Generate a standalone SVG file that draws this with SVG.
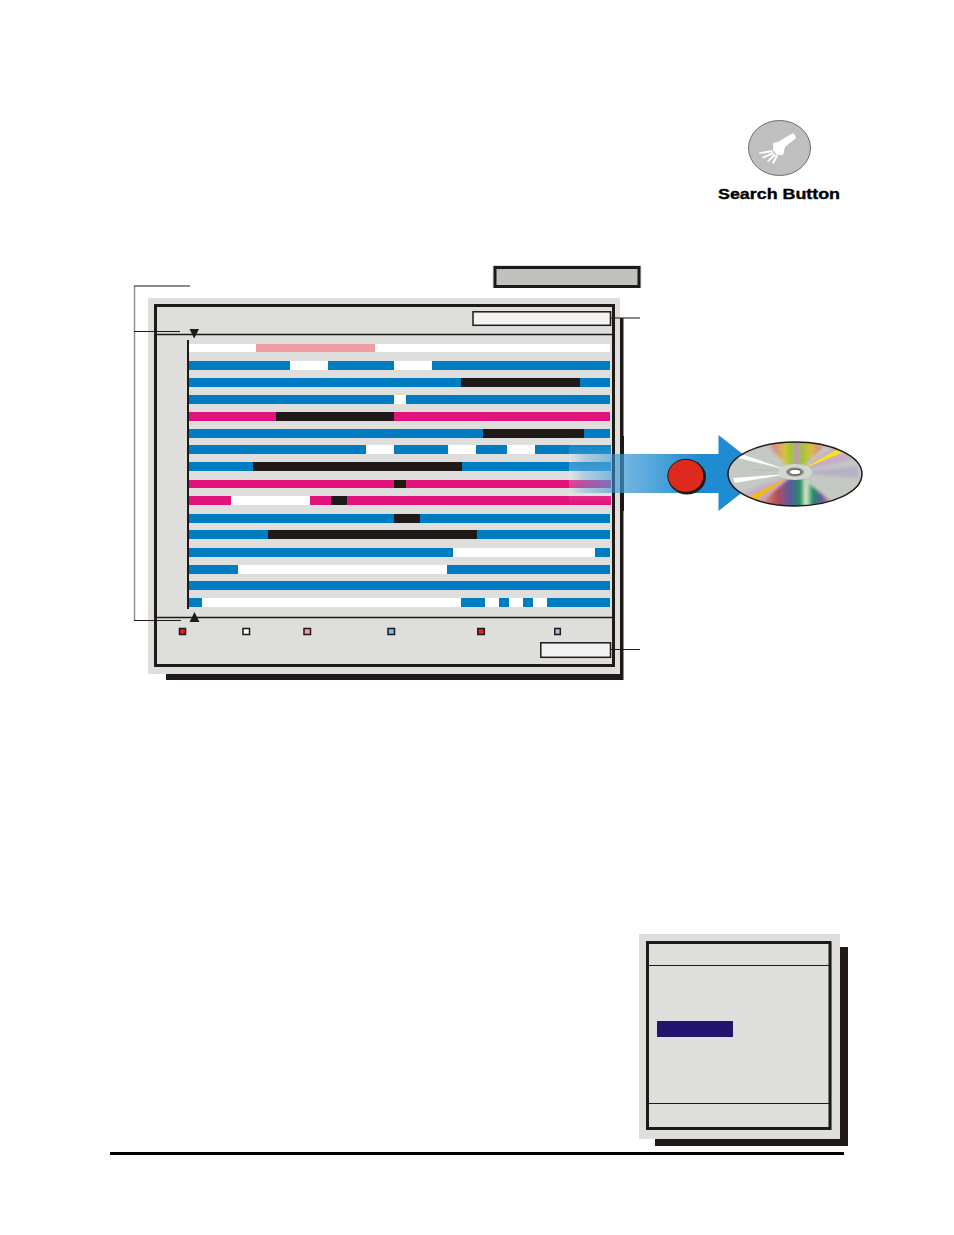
<svg xmlns="http://www.w3.org/2000/svg" width="954" height="1235" viewBox="0 0 954 1235">
<style>
.b{fill:#007cc3}.k{fill:#1f1a17}.w{fill:#fff}.m{fill:#e0147c}.p{fill:#f09ca4}
.ln{stroke:#1f1a17;stroke-width:1.5;fill:none}
.sw{stroke:#1f1a17;stroke-width:1.5}
</style>
<defs>
<linearGradient id="shaft" x1="569" x2="700" y1="0" y2="0" gradientUnits="userSpaceOnUse">
<stop offset="0" stop-color="#2a8fd0" stop-opacity="0"/><stop offset="0.1" stop-color="#2a8fd0" stop-opacity=".25"/><stop offset="0.45" stop-color="#3d9ad6" stop-opacity=".75"/><stop offset="1" stop-color="#1f8bd0"/>
</linearGradient>
<linearGradient id="haze" x1="0" x2="0" y1="0" y2="1">
<stop offset="0" stop-color="#fff" stop-opacity="0"/><stop offset=".5" stop-color="#fff" stop-opacity=".28"/><stop offset="1" stop-color="#fff" stop-opacity="0"/>
</linearGradient>
<linearGradient id="rT" x1="766" x2="828" y1="0" y2="0" gradientUnits="userSpaceOnUse">
<stop offset="0" stop-color="#c3c9c3"/><stop offset=".14" stop-color="#dc8c88"/><stop offset=".3" stop-color="#d8c040"/><stop offset=".42" stop-color="#98c830"/><stop offset=".5" stop-color="#c88cd0"/><stop offset=".58" stop-color="#98c830"/><stop offset=".72" stop-color="#d8c040"/><stop offset=".86" stop-color="#dc8c88"/><stop offset="1" stop-color="#c3c9c3"/>
</linearGradient>
<linearGradient id="rB" x1="752" x2="836" y1="0" y2="0" gradientUnits="userSpaceOnUse">
<stop offset="0" stop-color="#c3c9c3"/><stop offset=".15" stop-color="#d88a80"/><stop offset=".3" stop-color="#b84a58"/><stop offset=".45" stop-color="#5a5aa0"/><stop offset=".58" stop-color="#1f9060"/><stop offset=".64" stop-color="#e8f0d0"/><stop offset=".72" stop-color="#1f9060"/><stop offset=".82" stop-color="#5a5aa0"/><stop offset=".92" stop-color="#d88a80"/><stop offset="1" stop-color="#c3c9c3"/>
</linearGradient>
<clipPath id="disc"><ellipse cx="795" cy="474" rx="67" ry="32"/></clipPath>
<filter id="bl" x="-20%" y="-20%" width="140%" height="140%"><feGaussianBlur stdDeviation="1.6"/></filter>
<filter id="bl2" x="-20%" y="-50%" width="140%" height="200%"><feGaussianBlur stdDeviation=".7"/></filter>
</defs>

<g id="search-button">
<ellipse cx="779.500" cy="148" rx="31" ry="27.500" fill="#bfbfbf" stroke="#6e6e6e" stroke-width="1"/>
<g fill="#fff">
<path d="M773 143 L778 142 L793 133 L795 135 L796 138 L785 147 L783 155 L777 155 L773 150Z"/>
<path d="M772 150 L759 152.500 L759.500 154 L773 152Z"/>
<path d="M773 152 L762 157 L763 158.500 L774 154Z"/>
<path d="M774 154 L767 161 L768.500 162 L776 155Z"/>
<path d="M776 155 L772 163 L774 163.500 L778 156Z"/>
</g>
<text x="779" y="199" text-anchor="middle" font-family="'Liberation Sans',Arial,sans-serif" font-weight="700" font-size="15" stroke="#000" stroke-width=".35" textLength="122" lengthAdjust="spacingAndGlyphs">Search Button</text>
</g>

<g id="title-box">
<rect x="492.500" y="265" width="149" height="23" fill="#dededc"/>
<rect x="495" y="267.500" width="144" height="19" fill="#c0c0be" stroke="#1f1a17" stroke-width="3"/>
</g>

<g id="main-panel">
<rect x="166" y="318" width="457.500" height="362" class="k"/>
<rect x="623" y="318" width="1" height="362" fill="#8f8f8d"/>
<rect x="148" y="298" width="472" height="376" fill="#dededc"/>
<rect x="156.500" y="306.500" width="458" height="360" fill="none" stroke="#a8a8a6" stroke-width="1"/>
<rect x="155.500" y="305.500" width="458" height="360" fill="none" stroke="#1f1a17" stroke-width="3"/>
<path d="M157 334.500H612M157 617.500H612" class="ln"/>
<rect x="187" y="340" width="2" height="269" class="k"/>
</g>

<g id="rows">
<rect class="w" x="189" y="344" width="421" height="8"/><rect class="p" x="256" y="344" width="119" height="8"/>
<rect class="b" x="189" y="361" width="421" height="9"/><rect class="w" x="290" y="361" width="38" height="9"/><rect class="w" x="394" y="361" width="38" height="9"/>
<rect class="b" x="189" y="378" width="421" height="9"/><rect class="k" x="461" y="378" width="119" height="9"/>
<rect class="b" x="189" y="395" width="421" height="9"/><rect class="w" x="394" y="395" width="12" height="9"/>
<rect class="m" x="189" y="412" width="421" height="9"/><rect class="k" x="276" y="412" width="118" height="9"/>
<rect class="b" x="189" y="429" width="421" height="9"/><rect class="k" x="483" y="429" width="101" height="9"/>
<rect class="b" x="189" y="445" width="422" height="9"/><rect class="w" x="366" y="445" width="28" height="9"/><rect class="w" x="448" y="445" width="28" height="9"/><rect class="w" x="507" y="445" width="28" height="9"/>
<rect class="b" x="189" y="462" width="422" height="9"/><rect class="k" x="253" y="462" width="209" height="9"/>
<rect class="m" x="189" y="480" width="422" height="8"/><rect class="k" x="394" y="480" width="12" height="8"/>
<rect class="m" x="189" y="496" width="422" height="9"/><rect class="w" x="231" y="496" width="79" height="9"/><rect class="k" x="331" y="496" width="16" height="9"/>
<rect class="b" x="189" y="514" width="421" height="9"/><rect class="k" x="394" y="514" width="26" height="9"/>
<rect class="b" x="189" y="530" width="421" height="9"/><rect class="k" x="268" y="530" width="209" height="9"/>
<rect class="b" x="189" y="548" width="421" height="9"/><rect class="w" x="453" y="548" width="142" height="9"/>
<rect class="b" x="189" y="565" width="421" height="9"/><rect class="w" x="238" y="565" width="209" height="9"/>
<rect class="b" x="189" y="581" width="421" height="9"/>
<rect class="b" x="189" y="598" width="421" height="9"/><rect class="w" x="202" y="598" width="259" height="9"/><rect class="w" x="485" y="598" width="14" height="9"/><rect class="w" x="509" y="598" width="14" height="9"/><rect class="w" x="533" y="598" width="14" height="9"/>
</g>

<g id="markers">
<path d="M189.500 329H199L194.200 338.500Z" class="k"/>
<path d="M189.500 622H199.500L194.500 612Z" class="k"/>
</g>

<g id="legend">
<rect x="179.500" y="628.500" width="6" height="6" fill="#e1251b" class="sw"/>
<rect x="243" y="628.500" width="6.500" height="6" fill="#fff" class="sw"/>
<rect x="304" y="628.500" width="6.500" height="6" fill="#f09ca4" class="sw"/>
<rect x="388" y="628.500" width="6.500" height="6" fill="#74bfe8" class="sw"/>
<rect x="477.800" y="628.500" width="6.500" height="6" fill="#e1251b" class="sw"/>
<rect x="554.800" y="628.500" width="5.500" height="6" fill="#bcb6d8" class="sw"/>
</g>

<g id="field-top"><rect x="473" y="311.800" width="137.500" height="13.500" fill="#f2f2f2" stroke="#1f1a17" stroke-width="1.500"/></g>
<g id="field-bottom"><rect x="540.800" y="642.800" width="69.700" height="14.500" fill="#f2f2f2" stroke="#1f1a17" stroke-width="1.500"/></g>

<g id="connectors">
<path d="M134.500 286V620" stroke="#8f8f8d" stroke-width="1.500" fill="none"/>
<path d="M134 286H190M134 331.500H180M134 620.500H181" stroke="#1f1a17" stroke-width="1.200" fill="none"/>
<path d="M611 318H640M611 649.500H640" stroke="#1f1a17" stroke-width="1.200" fill="none"/>
</g>

<g id="export-arrow">
<rect x="569" y="436" width="42" height="70" fill="url(#haze)"/>
<rect x="621" y="436" width="3" height="75" class="k"/>
<rect x="569" y="454" width="150" height="39" fill="url(#shaft)"/>
<path d="M718.500 435L767 473L718.500 511Z" fill="#1f8bd0"/>
</g>

<g id="record-button">
<ellipse cx="687" cy="477" rx="19" ry="17.500" class="k"/>
<ellipse cx="685.800" cy="475.800" rx="18" ry="16.500" fill="#dd2a1c" stroke="#1f1a17" stroke-width="1"/>
</g>

<g id="disc-image">
<ellipse cx="795" cy="474" rx="67" ry="32" fill="#c3c9c3"/>
<g clip-path="url(#disc)">
<path d="M795 473L758 436H836Z" fill="url(#rT)" filter="url(#bl)"/>
<path d="M795 473L745 510H842Z" fill="url(#rB)" filter="url(#bl)"/>
<path d="M795 473L858 466L858 478Z" fill="#b0a0c8" opacity=".6" filter="url(#bl)"/>
<path d="M795 473L836 445L858 458Z" fill="#c8a8c8" opacity=".85" filter="url(#bl)"/>
<path d="M795 473L735 496L756 508Z" fill="#c8a8c8" opacity=".85" filter="url(#bl)"/>
<path d="M800 470L838 449L842 453Z" fill="#f8e020" filter="url(#bl2)"/>
<path d="M790 476L750 496L756 500Z" fill="#f5b81e" filter="url(#bl2)"/>
<path d="M788 470L741 454L738 458Z" fill="#fff" filter="url(#bl2)"/>
<path d="M788 474L733 478L735 483Z" fill="#fff" filter="url(#bl2)"/>
<path d="M790 470L752 469L752 470.500Z" fill="#d8a8c8" filter="url(#bl2)"/>
</g>
<ellipse cx="795" cy="472" rx="17" ry="8" fill="#d2d6d0"/>
<ellipse cx="795" cy="472" rx="9" ry="4.500" fill="#8d8f8d"/>
<ellipse cx="795" cy="472" rx="6" ry="2.800" fill="#fff" stroke="#333" stroke-width=".8"/>
<ellipse cx="795" cy="474" rx="67" ry="32" fill="none" stroke="#1f1a17" stroke-width="1.500"/>
</g>

<g id="menu-panel">
<rect x="655" y="947" width="193" height="199" class="k"/>
<rect x="639" y="934" width="201" height="205" fill="#dededc"/>
<rect x="648.500" y="943.500" width="182.500" height="186" fill="none" stroke="#a8a8a6" stroke-width="1"/>
<rect x="647.500" y="942.500" width="182.500" height="186" fill="none" stroke="#1f1a17" stroke-width="3"/>
<path d="M649 965.500H829M649 1103.500H829" stroke="#1f1a17" stroke-width="1" fill="none"/>
<rect x="657" y="1021" width="76" height="16" fill="#241470"/>
</g>

<g id="footer-rule"><rect x="110" y="1152" width="734" height="3" fill="#000"/></g>
</svg>
